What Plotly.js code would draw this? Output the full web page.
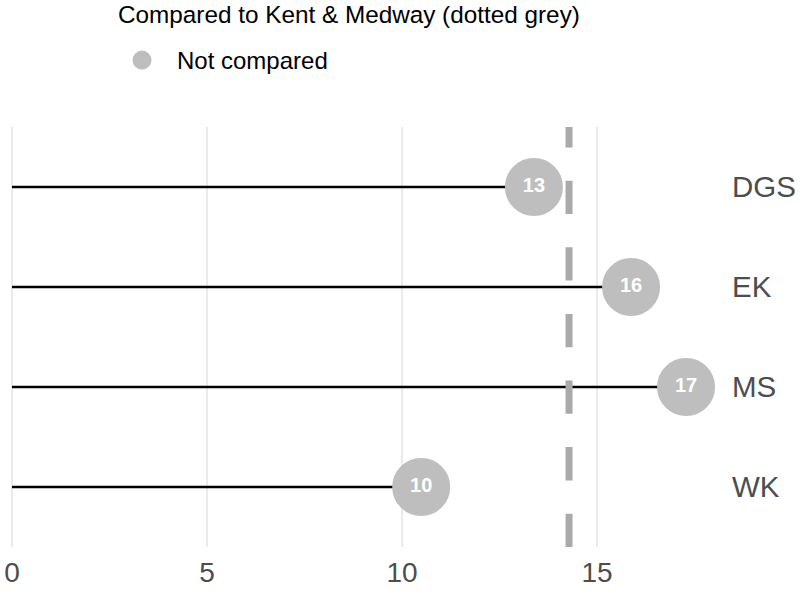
<!DOCTYPE html>
<html>
<head>
<meta charset="utf-8">
<script src="https://cdn.plot.ly/plotly-3.0.1.min.js"></script>
<style>html,body{margin:0;padding:0;background:#fff;}#chart{width:807px;height:591px;}</style>
</head>
<body>
<div id="chart"></div>
<script>
// Data
const areas = ["DGS", "EK", "MS", "WK"];
const values = [13.38, 15.87, 17.28, 10.49];
const valueLabels = ["13", "16", "17", "10"];
const kentMedway = 14.28;
const xTicks = [0, 5, 10, 15];
const legendGroupName = "Not compared";
const legendTitle = "Compared to Kent & Medway (dotted grey)";

const FONT = "Arial, 'Liberation Sans', sans-serif";

// Lollipop stems built from the data arrays
const stemX = [], stemY = [];
areas.forEach((a, i) => { stemX.push(0, values[i], null); stemY.push(a, a, null); });

const stems = {
  type: "scatter", mode: "lines", x: stemX, y: stemY,
  line: {color: "#000000", width: 2.5}, showlegend: false, hoverinfo: "skip"
};

const dots = {
  type: "scatter", mode: "markers+text", x: values, y: areas,
  name: legendGroupName, text: valueLabels, textposition: "middle center",
  textfont: {family: FONT, size: 20, color: "#ffffff", weight: "bold"},
  marker: {color: "#bebebe", size: 55, line: {color: "#bebebe", width: 3}},
  showlegend: true
};

const layout = {
  width: 807, height: 591,
  margin: {l: 0, r: 87, t: 127, b: 44},
  paper_bgcolor: "#ffffff", plot_bgcolor: "#ffffff",
  font: {family: FONT},
  xaxis: {
    range: [-12/39, 18.15], tickvals: xTicks, ticktext: xTicks.map(String),
    showgrid: true, gridcolor: "#ebebeb", gridwidth: 2, zeroline: false,
    showline: false, ticks: "", tickfont: {size: 28, color: "#4d4d4d"},
    ticklabelstandoff: 6
  },
  yaxis: {
    type: "category", categoryorder: "array", categoryarray: areas,
    range: [3.6, -0.6], side: "right", showgrid: false, zeroline: false,
    showline: false, ticks: "", tickfont: {size: 29.5, color: "#4d4d4d"},
    ticklabelstandoff: 11
  },
  shapes: [{
    type: "line", xref: "x", yref: "paper", x0: kentMedway, x1: kentMedway, y0: 0, y1: 1,
    line: {color: "#aaaaaa", width: 7, dash: "33.3px,33.3px"}, layer: "above"
  }],
  annotations: [{
    text: legendTitle, xref: "paper", yref: "paper",
    x: 117/720, y: 1 + 127/420, xanchor: "left", yanchor: "top", borderpad: 0,
    showarrow: false, font: {size: 24.3, color: "#000000"}
  }],
  showlegend: true,
  legend: {
    xref: "container", yref: "container", x: 107/807, y: 1 - 38/591, xanchor: "left", yanchor: "top",
    orientation: "h", itemwidth: 60,
    font: {size: 24, color: "#000000"}, bgcolor: "rgba(0,0,0,0)"
  }
};

Plotly.newPlot("chart", [stems, dots], layout, {displayModeBar: false, staticPlot: true});
</script>
</body>
</html>
